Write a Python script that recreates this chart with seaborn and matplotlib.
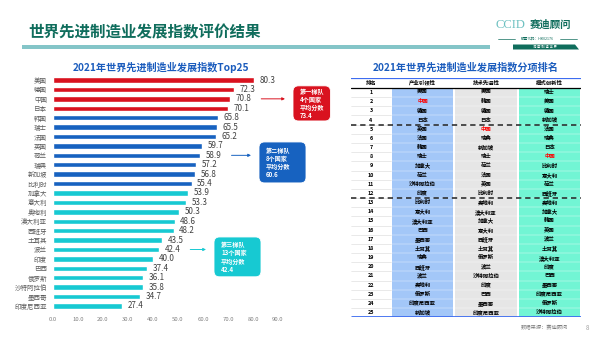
import matplotlib
matplotlib.use("Agg")
import matplotlib.pyplot as plt
import seaborn as sns
import pandas as pd
from matplotlib.patches import FancyBboxPatch, Rectangle, Polygon

# ---------------- data ----------------
countries = ["美国", "德国", "中国", "日本", "韩国", "瑞士", "法国", "英国", "荷兰", "瑞典",
             "新加坡", "比利时", "加拿大", "意大利", "奥地利", "澳大利亚", "西班牙", "土耳其",
             "波兰", "印度", "巴西", "俄罗斯", "沙特阿拉伯", "墨西哥", "印度尼西亚"]
scores = [80.3, 72.3, 70.8, 70.1, 65.8, 65.5, 65.2, 59.7, 58.9, 57.2, 56.8, 55.4, 53.9,
          53.3, 50.3, 48.6, 48.2, 43.5, 42.4, 40.0, 37.4, 36.1, 35.8, 34.7, 27.4]
tiers = ["第一梯队"] * 4 + ["第二梯队"] * 8 + ["第三梯队"] * 13
tier_names = ["第一梯队", "第二梯队", "第三梯队"]
tier_counts = ["4个国家", "8个国家", "13个国家"]
tier_avgs = [73.4, 60.6, 42.4]
x_ticks = [0, 10, 20, 30, 40, 50, 60, 70, 80, 90]

table_headers = ["排名", "产业引领性", "技术先进性", "模式创新性"]
ranks = list(range(1, 26))
industry_lead = ["美国", "中国", "德国", "日本", "英国", "法国", "韩国", "瑞士", "加拿大", "荷兰",
                 "沙特阿拉伯", "印度", "比利时", "意大利", "澳大利亚", "巴西", "墨西哥", "土耳其",
                 "瑞典", "西班牙", "波兰", "奥地利", "俄罗斯", "印度尼西亚", "新加坡"]
tech_advance = ["美国", "韩国", "德国", "日本", "中国", "瑞典", "新加坡", "瑞士", "荷兰", "法国",
                "英国", "比利时", "奥地利", "澳大利亚", "加拿大", "意大利", "西班牙", "土耳其",
                "俄罗斯", "波兰", "沙特阿拉伯", "印度", "巴西", "墨西哥", "印度尼西亚"]
model_innov = ["瑞士", "美国", "德国", "新加坡", "法国", "瑞典", "日本", "中国", "比利时", "意大利",
               "荷兰", "西班牙", "奥地利", "加拿大", "韩国", "英国", "波兰", "土耳其", "澳大利亚",
               "印度", "巴西", "墨西哥", "印度尼西亚", "俄罗斯", "沙特阿拉伯"]

main_title = "世界先进制造业发展指数评价结果"
bar_title = "2021年世界先进制造业发展指数Top25"
table_title = "2021年世界先进制造业发展指数分项排名"
source_text = "数据来源：赛迪顾问"
page_no = "8"

# ---------------- style ----------------
sns.set_style("white")
plt.rcParams['font.family'] = ['Noto Sans CJK SC', 'DejaVu Sans']

RED, BLUE, CYAN = "#d9121f", "#1762c0", "#17c9d2"
palette = {"第一梯队": RED, "第二梯队": BLUE, "第三梯队": CYAN}
TEAL_DARK = "#0f6d5c"
TITLE_BLUE = "#1b5cbd"

W, H = 600, 337
fig = plt.figure(figsize=(6, 3.37), dpi=100)
fig.patch.set_facecolor("white")


def rect(l, t, r, b):
    return [l / W, 1 - b / H, (r - l) / W, (b - t) / H]


# overlay for header decorations (pixel coordinates)
deco = fig.add_axes([0, 0, 1, 1])
deco.set_xlim(0, W)
deco.set_ylim(H, 0)
deco.axis("off")

deco.text(28, 32, main_title, fontsize=11.2, fontweight="bold", color=TEAL_DARK,
          va="center", ha="left")
deco.add_patch(Rectangle((22, 45), 468, 3.5, color="#84c5c8", lw=0))
# logo
deco.text(495, 25, "CCID", fontsize=9, color="#6cc0c0", family="Liberation Serif",
          va="center", ha="left")
deco.text(530, 25, "赛迪顾问", fontsize=7.5, fontweight="bold", color=TEAL_DARK,
          va="center", ha="left")
deco.plot([498, 515], [38.5, 38.5], color=TEAL_DARK, lw=0.5)
deco.plot([560, 577], [38.5, 38.5], color=TEAL_DARK, lw=0.5)
deco.text(537.5, 38.5, "股票代码：HK02176", fontsize=2.6, color=TEAL_DARK,
          va="center", ha="center")
deco.add_patch(Polygon([[513, 44.5], [575, 44.5], [579, 49.5], [513, 49.5]],
                       closed=True, color=TEAL_DARK, lw=0))
deco.text(545, 47, "洞 察 制 造 世 界", fontsize=2.4, color="white", va="center", ha="center")

deco.text(161, 67, bar_title, fontsize=7.3, fontweight="bold", color=TITLE_BLUE,
          ha="center", va="center")
deco.text(466, 67, table_title, fontsize=7.3, fontweight="bold", color=TITLE_BLUE,
          ha="center", va="center")
deco.text(521, 328, source_text, fontsize=3.8, color="#7f7f7f", ha="left", va="center")
deco.text(586, 328, page_no, fontsize=4.5, color="#a0a0a0", ha="left", va="center")

# ---------------- bar chart ----------------
df = pd.DataFrame({"country": countries, "score": scores, "tier": tiers})
ax = fig.add_axes(rect(53, 75.3, 278, 310.7))
sns.barplot(data=df, x="score", y="country", hue="tier", palette=palette, dodge=False,
            width=0.58, legend=False, ax=ax, orient="h", saturation=1)
ax.set_xlim(0, 90)
ax.set_xticks(x_ticks)
ax.set_xticklabels([f"{v:.1f}" for v in x_ticks], fontsize=4.3, color="#7f7f7f")
ax.tick_params(axis="x", length=0, pad=4.5)
ax.tick_params(axis="y", length=0, pad=4.3, labelsize=4.7, labelcolor="#595959")
ax.set_xlabel("")
ax.set_ylabel("")
for s in ax.spines.values():
    s.set_visible(False)
ax.set_facecolor("none")

for i, v in enumerate(scores):
    ax.text(v + 2.3, i, f"{v:.1f}", fontsize=5.8, color="#404040", va="center", ha="left")

# tier boxes (data coordinates of the bar axes)
boxes = [  # x0, x1, y0, y1, arrow row
    (96.0, 111.0, 0.62, 4.35, 2),
    (82.4, 101.2, 6.58, 10.93, 8),
    (64.4, 83.2, 16.67, 20.9, 18),
]
tier_colors = [RED, BLUE, CYAN]
for k, (x0, x1, y0, y1, row) in enumerate(boxes):
    c = tier_colors[k]
    p = FancyBboxPatch((x0, y0), x1 - x0, y1 - y0,
                       boxstyle="round,pad=0,rounding_size=2.2",
                       mutation_aspect=0.27, facecolor=c, edgecolor="#ffffff",
                       lw=0.6, alpha=1, clip_on=False, zorder=5)
    ax.add_patch(p)
    ax.text(x0 + 2.8, (y0 + y1) / 2,
            f"{tier_names[k]}\n{tier_counts[k]}\n平均分数\n{tier_avgs[k]:.1f}",
            fontsize=4.4, color="white", fontweight="bold", ha="left", va="center",
            linespacing=1.2, zorder=6, clip_on=False)
    ax.annotate("", xy=(x0 - 3.2, row), xytext=(scores[row] + 12.5, row),
                arrowprops=dict(arrowstyle="-|>", color=c, lw=0.7,
                                mutation_scale=4, shrinkA=0, shrinkB=0),
                annotation_clip=False)

# ---------------- ranking table ----------------
tab = fig.add_axes(rect(351, 78, 581, 317.2))
tab.set_xlim(0, 230)
tab.set_ylim(25, -1.09)
tab.axis("off")
edges = [0, 40, 103, 167, 230]
col_bg = [None, "#a3c7f8", "#e6e6e6", "#72f5d4"]
for j in range(1, 4):
    tab.add_patch(Rectangle((edges[j] + 0.6, 0), edges[j + 1] - edges[j] - 1.2, 25,
                            facecolor=col_bg[j], lw=0, zorder=0))
# row separators
for r in range(1, 25):
    tab.plot([0, edges[1]], [r, r], color="#d9d9d9", lw=0.4, zorder=1)
    for j in range(1, 4):
        tab.plot([edges[j] + 0.6, edges[j + 1] - 0.6], [r, r], color="white", lw=0.35,
                 alpha=0.7, zorder=1)

tab.plot([0, 230], [-1.09, -1.09], color="#3d6cf0", lw=1.6, solid_capstyle="butt", zorder=3)
tab.plot([0, 230], [0, 0], color="black", lw=0.9, zorder=3)
tab.plot([0, 230], [25, 25], color="#3d6cf0", lw=2.0, solid_capstyle="butt", zorder=3)
for yline in (4, 12):
    tab.plot([0, 230], [yline, yline], color="#222222", lw=1.1, ls=(0, (3.5, 2.5)), zorder=4)

centers = [(edges[j] + edges[j + 1]) / 2 for j in range(4)]
for j, h in enumerate(table_headers):
    tab.text(centers[j], -0.545, h, fontsize=3.9, fontweight="bold", color="black",
             ha="center", va="center")
columns = [industry_lead, tech_advance, model_innov]
for i, rk in enumerate(ranks):
    y = i + 0.5
    tab.text(centers[0], y, str(rk), fontsize=3.9, fontweight="bold", color="black",
             ha="center", va="center", zorder=5)
    for j, col in enumerate(columns):
        name = col[i]
        tab.text(centers[j + 1], y, name, fontsize=3.9, fontweight="bold",
                 color="#ff0000" if name == "中国" else "black",
                 ha="center", va="center", zorder=5)

fig.savefig("out.png", dpi=100, facecolor="white")
